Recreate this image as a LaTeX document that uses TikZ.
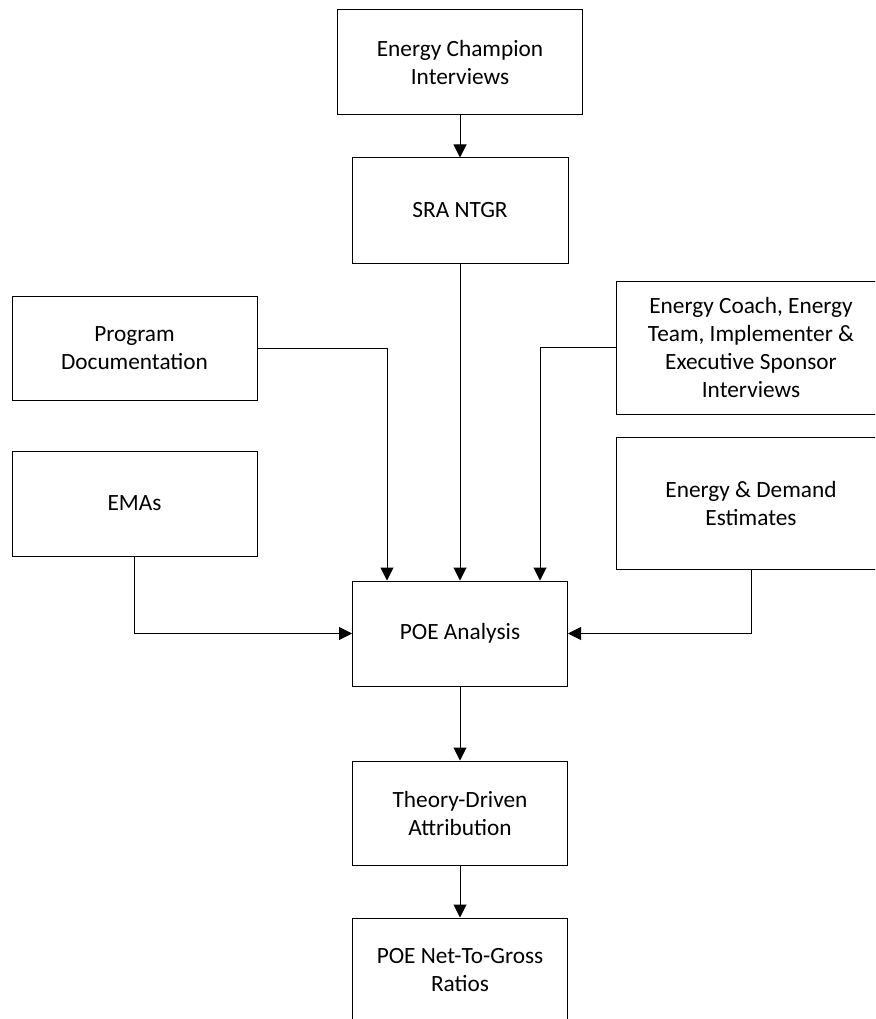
\documentclass[tikz,border=0pt]{standalone}
\usepackage{fontspec}
\setmainfont{Carlito}
\usetikzlibrary{arrows.meta}
\tikzset{
  block/.style={rectangle,draw,line width=1pt,align=center,
    inner sep=0pt,font=\fontsize{23.3}{28}\selectfont},
  flow/.style={line width=1pt,-{Triangle[length=13pt,width=13pt]}}
}
\begin{document}
\begin{tikzpicture}[x=1pt,y=-1pt]
  \useasboundingbox (0,0) rectangle (875,1019);
  \begin{scope}
  \clip (0,0) rectangle (875,1019);
  \node [block,minimum width=245,minimum height=105] (champ) at (460,62.5)
    {Energy Champion\\Interviews};
  \node [block,minimum width=216,minimum height=105] (sra) at (460,210.5)
    {SRA NTGR};
  \node [block,minimum width=245,minimum height=104] (progdoc) at (134.5,348)
    {Program\\Documentation};
  \node [block,minimum width=245,minimum height=105] (emas) at (134.5,503.5)
    {EMAs};
  \node [block,minimum width=270,minimum height=133] (coach) at (751,347.5)
    {Energy Coach, Energy\\Team, Implementer \&\\Executive Sponsor\\Interviews};
  \node [block,minimum width=270,minimum height=132] (demand) at (751,503)
    {Energy \& Demand\\Estimates};
  \node [block,minimum width=215,minimum height=105] (poe) at (460,633.5)
    {POE Analysis};
  \node [block,minimum width=215,minimum height=104] (theory) at (460,813)
    {Theory-Driven\\Attribution};
  \node [block,minimum width=215,minimum height=105] (ntg) at (460,970.5)
    {POE Net-To-Gross\\Ratios};

  \draw [flow] (champ) -- (sra);
  \draw [flow] (sra) -- (poe);
  \draw [flow] (progdoc.east) -| ([xshift=-73]poe.north);
  \draw [flow] (coach.west) -| ([xshift=80]poe.north);
  \draw [flow] (emas.south) |- (poe.west);
  \draw [flow] (demand.south) |- (poe.east);
  \draw [flow] (poe) -- (theory);
  \draw [flow] (theory) -- (ntg);
  \end{scope}
\end{tikzpicture}
\end{document}
